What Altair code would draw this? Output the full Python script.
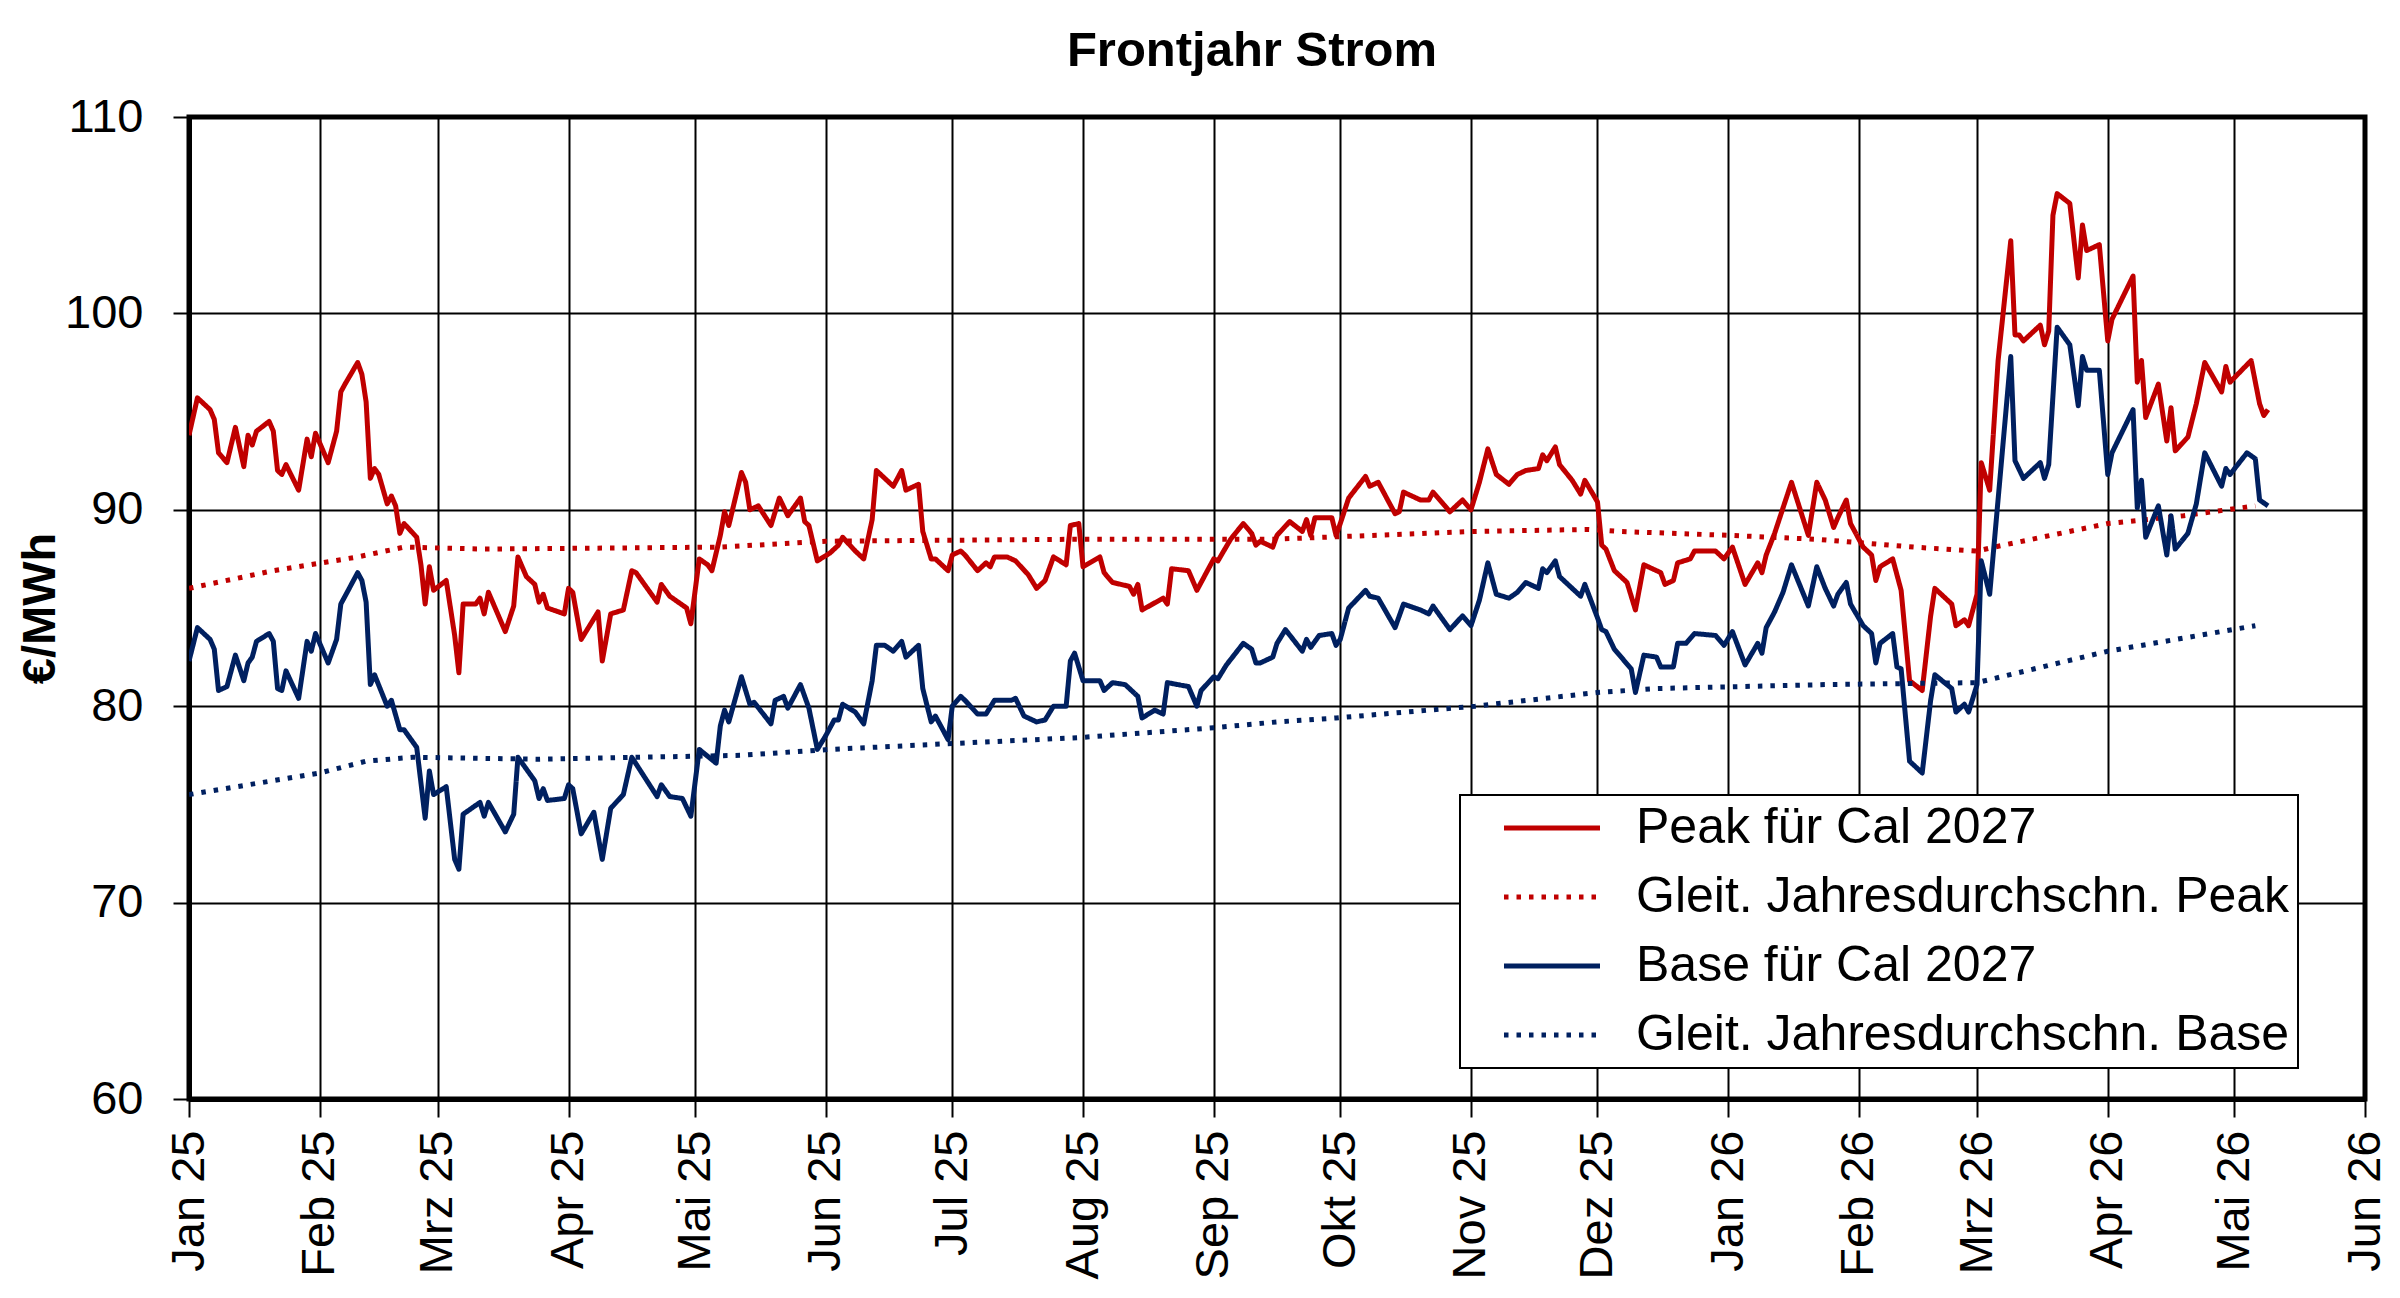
import altair as alt
import pandas as pd

# ---------------- data ----------------
peak_dates = [
    "2025-01-01", "2025-01-03", "2025-01-06", "2025-01-07", "2025-01-08", "2025-01-10", "2025-01-12",
    "2025-01-14", "2025-01-15", "2025-01-16", "2025-01-17", "2025-01-20", "2025-01-21", "2025-01-22",
    "2025-01-23", "2025-01-24", "2025-01-27", "2025-01-29", "2025-01-30", "2025-01-31", "2025-02-02",
    "2025-02-03", "2025-02-05", "2025-02-06", "2025-02-07", "2025-02-10", "2025-02-11", "2025-02-12",
    "2025-02-13", "2025-02-14", "2025-02-15", "2025-02-17", "2025-02-18", "2025-02-19", "2025-02-20",
    "2025-02-21", "2025-02-24", "2025-02-25", "2025-02-26", "2025-02-27", "2025-02-28", "2025-03-03",
    "2025-03-05", "2025-03-06", "2025-03-07", "2025-03-10", "2025-03-11", "2025-03-12", "2025-03-13",
    "2025-03-17", "2025-03-19", "2025-03-20", "2025-03-22", "2025-03-24", "2025-03-25", "2025-03-26",
    "2025-03-27", "2025-03-31", "2025-04-01", "2025-04-02", "2025-04-04", "2025-04-08", "2025-04-09",
    "2025-04-11", "2025-04-14", "2025-04-16", "2025-04-17", "2025-04-22", "2025-04-23", "2025-04-25",
    "2025-04-29", "2025-04-30", "2025-05-02", "2025-05-04", "2025-05-05", "2025-05-07", "2025-05-08",
    "2025-05-09", "2025-05-12", "2025-05-13", "2025-05-14", "2025-05-16", "2025-05-19", "2025-05-21",
    "2025-05-23", "2025-05-26", "2025-05-27", "2025-05-28", "2025-05-30", "2025-06-02", "2025-06-04",
    "2025-06-05", "2025-06-08", "2025-06-10", "2025-06-12", "2025-06-13", "2025-06-15", "2025-06-17",
    "2025-06-19", "2025-06-20", "2025-06-23", "2025-06-24", "2025-06-26", "2025-06-27", "2025-06-30",
    "2025-07-01", "2025-07-03", "2025-07-04", "2025-07-07", "2025-07-09", "2025-07-10", "2025-07-11",
    "2025-07-14", "2025-07-16", "2025-07-19", "2025-07-21", "2025-07-23", "2025-07-25", "2025-07-28",
    "2025-07-29", "2025-07-31", "2025-08-01", "2025-08-05", "2025-08-06", "2025-08-08", "2025-08-12",
    "2025-08-13", "2025-08-14", "2025-08-15", "2025-08-20", "2025-08-21", "2025-08-22", "2025-08-26",
    "2025-08-28", "2025-09-01", "2025-09-02", "2025-09-05", "2025-09-08", "2025-09-10", "2025-09-11",
    "2025-09-12", "2025-09-15", "2025-09-16", "2025-09-19", "2025-09-22", "2025-09-23", "2025-09-24",
    "2025-09-25", "2025-09-29", "2025-09-30", "2025-10-01", "2025-10-03", "2025-10-07", "2025-10-08",
    "2025-10-10", "2025-10-14", "2025-10-15", "2025-10-16", "2025-10-20", "2025-10-22", "2025-10-23",
    "2025-10-27", "2025-10-30", "2025-11-01", "2025-11-03", "2025-11-05", "2025-11-07", "2025-11-10",
    "2025-11-12", "2025-11-14", "2025-11-17", "2025-11-18", "2025-11-19", "2025-11-21", "2025-11-22",
    "2025-11-25", "2025-11-27", "2025-11-28", "2025-12-01", "2025-12-02", "2025-12-03", "2025-12-05",
    "2025-12-08", "2025-12-10", "2025-12-12", "2025-12-16", "2025-12-17", "2025-12-19", "2025-12-20",
    "2025-12-23", "2025-12-24", "2025-12-29", "2025-12-31", "2026-01-02", "2026-01-05", "2026-01-08",
    "2026-01-09", "2026-01-10", "2026-01-12", "2026-01-16", "2026-01-20", "2026-01-22", "2026-01-24",
    "2026-01-26", "2026-01-27", "2026-01-29", "2026-01-30", "2026-02-02", "2026-02-04", "2026-02-05",
    "2026-02-06", "2026-02-09", "2026-02-11", "2026-02-13", "2026-02-16", "2026-02-18", "2026-02-19",
    "2026-02-23", "2026-02-24", "2026-02-26", "2026-02-27", "2026-03-01", "2026-03-02", "2026-03-04",
    "2026-03-06", "2026-03-09", "2026-03-10", "2026-03-11", "2026-03-12", "2026-03-16", "2026-03-17",
    "2026-03-18", "2026-03-19", "2026-03-20", "2026-03-23", "2026-03-25", "2026-03-26", "2026-03-27",
    "2026-03-30", "2026-04-01", "2026-04-02", "2026-04-07", "2026-04-08", "2026-04-09", "2026-04-10",
    "2026-04-13", "2026-04-15", "2026-04-16", "2026-04-17", "2026-04-20", "2026-04-22", "2026-04-24",
    "2026-04-28", "2026-04-29", "2026-04-30", "2026-05-05", "2026-05-07", "2026-05-08", "2026-05-09",
]
peak_values = [
    93.8, 95.7, 95.1, 94.6, 92.9, 92.4, 94.2,
    92.2, 93.8, 93.3, 94.0, 94.5, 94.0, 92.0,
    91.8, 92.3, 91.0, 93.6, 92.7, 93.9, 92.9,
    92.4, 94.0, 96.0, 96.4, 97.5, 96.9, 95.5,
    91.6, 92.1, 91.8, 90.3, 90.7, 90.2, 88.8,
    89.3, 88.6, 87.2, 85.2, 87.1, 85.9, 86.4,
    83.6, 81.7, 85.2, 85.2, 85.5, 84.7, 85.8,
    83.8, 85.1, 87.6, 86.6, 86.2, 85.3, 85.7,
    85.0, 84.7, 86.0, 85.8, 83.4, 84.8, 82.3,
    84.7, 84.9, 86.9, 86.8, 85.3, 86.2, 85.6,
    85.0, 84.2, 87.5, 87.2, 86.9, 88.7, 89.9,
    89.2, 91.9, 91.4, 90.0, 90.2, 89.2, 90.6,
    89.7, 90.6, 89.4, 89.2, 87.4, 87.8, 88.2,
    88.6, 87.9, 87.5, 89.5, 92.0, 91.6, 91.2,
    92.0, 91.0, 91.3, 88.9, 87.5, 87.5, 86.9,
    87.7, 87.9, 87.7, 86.9, 87.3, 87.1, 87.6,
    87.6, 87.4, 86.7, 86.0, 86.4, 87.6, 87.2,
    89.2, 89.3, 87.1, 87.6, 86.8, 86.3, 86.1,
    85.7, 86.2, 84.9, 85.5, 85.2, 87.0, 86.9,
    85.9, 87.5, 87.4, 88.5, 89.3, 88.8, 88.2,
    88.4, 88.1, 88.7, 89.4, 88.9, 89.5, 88.7,
    89.6, 89.6, 88.7, 89.3, 90.6, 91.7, 91.2,
    91.4, 89.8, 89.9, 90.9, 90.5, 90.5, 90.9,
    89.9, 90.5, 90.0, 91.4, 93.1, 91.8, 91.3,
    91.8, 92.0, 92.1, 92.8, 92.5, 93.2, 92.3,
    91.5, 90.8, 91.5, 90.4, 88.2, 88.0, 86.9,
    86.3, 84.9, 87.2, 86.8, 86.2, 86.4, 87.3,
    87.5, 87.9, 87.9, 87.5, 88.1, 86.2, 87.3,
    86.8, 87.7, 88.8, 91.4, 88.7, 91.4, 90.5,
    89.1, 89.6, 90.5, 89.3, 88.1, 87.7, 86.4,
    87.1, 87.5, 85.9, 81.3, 80.8, 84.6, 86.0,
    85.2, 84.1, 84.4, 84.1, 85.7, 92.4, 91.0,
    97.6, 103.7, 98.9, 98.9, 98.6, 99.4, 98.4,
    99.1, 105.0, 106.1, 105.6, 101.8, 104.5, 103.2,
    103.5, 98.6, 99.7, 101.9, 96.5, 97.6, 94.7,
    96.4, 93.5, 95.2, 93.0, 93.7, 95.4, 97.5,
    96.0, 97.3, 96.5, 97.6, 95.4, 94.8, 95.1,
]

base_dates = [
    "2025-01-01", "2025-01-03", "2025-01-06", "2025-01-07", "2025-01-08", "2025-01-10", "2025-01-12",
    "2025-01-14", "2025-01-15", "2025-01-16", "2025-01-17", "2025-01-20", "2025-01-21", "2025-01-22",
    "2025-01-23", "2025-01-24", "2025-01-27", "2025-01-29", "2025-01-30", "2025-01-31", "2025-02-02",
    "2025-02-03", "2025-02-05", "2025-02-06", "2025-02-10", "2025-02-11", "2025-02-12", "2025-02-13",
    "2025-02-14", "2025-02-17", "2025-02-18", "2025-02-20", "2025-02-21", "2025-02-24", "2025-02-26",
    "2025-02-27", "2025-02-28", "2025-03-03", "2025-03-05", "2025-03-06", "2025-03-07", "2025-03-11",
    "2025-03-12", "2025-03-13", "2025-03-17", "2025-03-19", "2025-03-20", "2025-03-24", "2025-03-25",
    "2025-03-26", "2025-03-27", "2025-03-31", "2025-04-01", "2025-04-02", "2025-04-04", "2025-04-07",
    "2025-04-09", "2025-04-11", "2025-04-14", "2025-04-16", "2025-04-22", "2025-04-23", "2025-04-25",
    "2025-04-28", "2025-04-30", "2025-05-02", "2025-05-06", "2025-05-07", "2025-05-08", "2025-05-09",
    "2025-05-12", "2025-05-14", "2025-05-15", "2025-05-19", "2025-05-20", "2025-05-22", "2025-05-23",
    "2025-05-26", "2025-05-28", "2025-05-30", "2025-06-01", "2025-06-03", "2025-06-04", "2025-06-05",
    "2025-06-08", "2025-06-10", "2025-06-12", "2025-06-13", "2025-06-15", "2025-06-17", "2025-06-19",
    "2025-06-20", "2025-06-23", "2025-06-24", "2025-06-26", "2025-06-27", "2025-06-30", "2025-07-01",
    "2025-07-03", "2025-07-04", "2025-07-07", "2025-07-09", "2025-07-11", "2025-07-15", "2025-07-16",
    "2025-07-18", "2025-07-21", "2025-07-23", "2025-07-25", "2025-07-28", "2025-07-29", "2025-07-30",
    "2025-08-01", "2025-08-05", "2025-08-06", "2025-08-08", "2025-08-11", "2025-08-14", "2025-08-15",
    "2025-08-18", "2025-08-20", "2025-08-21", "2025-08-26", "2025-08-28", "2025-08-29", "2025-09-01",
    "2025-09-02", "2025-09-04", "2025-09-08", "2025-09-10", "2025-09-11", "2025-09-12", "2025-09-15",
    "2025-09-16", "2025-09-18", "2025-09-22", "2025-09-23", "2025-09-24", "2025-09-26", "2025-09-29",
    "2025-09-30", "2025-10-01", "2025-10-03", "2025-10-07", "2025-10-08", "2025-10-10", "2025-10-14",
    "2025-10-16", "2025-10-20", "2025-10-22", "2025-10-23", "2025-10-27", "2025-10-30", "2025-11-01",
    "2025-11-03", "2025-11-05", "2025-11-07", "2025-11-10", "2025-11-12", "2025-11-14", "2025-11-17",
    "2025-11-18", "2025-11-19", "2025-11-21", "2025-11-22", "2025-11-25", "2025-11-27", "2025-11-28",
    "2025-12-01", "2025-12-02", "2025-12-03", "2025-12-05", "2025-12-09", "2025-12-10", "2025-12-12",
    "2025-12-15", "2025-12-16", "2025-12-19", "2025-12-20", "2025-12-22", "2025-12-24", "2025-12-29",
    "2025-12-31", "2026-01-02", "2026-01-05", "2026-01-08", "2026-01-09", "2026-01-10", "2026-01-12",
    "2026-01-14", "2026-01-16", "2026-01-20", "2026-01-22", "2026-01-24", "2026-01-26", "2026-01-27",
    "2026-01-29", "2026-01-30", "2026-02-02", "2026-02-04", "2026-02-05", "2026-02-06", "2026-02-09",
    "2026-02-10", "2026-02-11", "2026-02-13", "2026-02-16", "2026-02-18", "2026-02-19", "2026-02-23",
    "2026-02-24", "2026-02-26", "2026-02-27", "2026-03-01", "2026-03-02", "2026-03-04", "2026-03-09",
    "2026-03-10", "2026-03-12", "2026-03-16", "2026-03-17", "2026-03-18", "2026-03-20", "2026-03-23",
    "2026-03-25", "2026-03-26", "2026-03-27", "2026-03-30", "2026-04-01", "2026-04-02", "2026-04-07",
    "2026-04-08", "2026-04-09", "2026-04-10", "2026-04-13", "2026-04-15", "2026-04-16", "2026-04-17",
    "2026-04-20", "2026-04-22", "2026-04-24", "2026-04-28", "2026-04-29", "2026-04-30", "2026-05-04",
    "2026-05-06", "2026-05-07", "2026-05-09",
]
base_values = [
    82.3, 84.0, 83.4, 82.9, 80.8, 81.0, 82.6,
    81.3, 82.2, 82.5, 83.3, 83.7, 83.3, 80.9,
    80.8, 81.8, 80.4, 83.3, 82.8, 83.7, 82.7,
    82.2, 83.4, 85.2, 86.8, 86.4, 85.3, 81.1,
    81.6, 80.0, 80.3, 78.8, 78.8, 77.9, 74.3,
    76.7, 75.5, 75.9, 72.2, 71.7, 74.5, 75.1,
    74.4, 75.1, 73.6, 74.5, 77.4, 76.2, 75.3,
    75.8, 75.2, 75.3, 76.0, 75.8, 73.5, 74.6,
    72.2, 74.8, 75.5, 77.4, 75.4, 76.0, 75.4,
    75.3, 74.4, 77.8, 77.1, 79.0, 79.8, 79.2,
    81.5, 80.1, 80.2, 79.1, 80.3, 80.5, 79.9,
    81.1, 79.9, 77.8, 78.5, 79.3, 79.3, 80.1,
    79.7, 79.1, 81.3, 83.1, 83.1, 82.8, 83.3,
    82.5, 83.1, 80.9, 79.2, 79.5, 78.3, 80.0,
    80.5, 80.3, 79.6, 79.6, 80.3, 80.3, 80.4,
    79.5, 79.2, 79.3, 80.0, 80.0, 82.3, 82.7,
    81.3, 81.3, 80.8, 81.2, 81.1, 80.5, 79.4,
    79.8, 79.6, 81.2, 81.0, 80.0, 80.8, 81.5,
    81.4, 82.1, 83.2, 82.9, 82.2, 82.2, 82.5,
    83.2, 83.9, 82.8, 83.4, 83.0, 83.6, 83.7,
    83.1, 83.4, 85.0, 85.9, 85.6, 85.5, 84.0,
    85.2, 84.9, 84.7, 85.1, 83.9, 84.6, 84.1,
    85.4, 87.3, 85.7, 85.5, 85.8, 86.3, 86.0,
    87.0, 86.8, 87.4, 86.6, 86.0, 85.6, 86.2,
    84.5, 83.9, 83.8, 82.9, 81.9, 80.7, 82.6,
    82.5, 82.0, 82.0, 83.2, 83.2, 83.7, 83.6,
    83.1, 83.8, 82.1, 83.2, 82.7, 84.0, 84.8,
    85.8, 87.2, 85.1, 87.1, 86.0, 85.1, 85.7,
    86.3, 85.2, 84.1, 83.7, 82.2, 83.2, 83.7,
    82.0, 81.9, 77.2, 76.6, 80.3, 81.6, 80.9,
    79.7, 80.1, 79.7, 81.1, 87.4, 85.7, 97.8,
    92.5, 91.6, 92.4, 91.6, 92.3, 99.3, 98.4,
    95.3, 97.8, 97.1, 97.1, 91.8, 92.9, 95.1,
    90.1, 91.5, 88.6, 90.2, 87.7, 89.7, 88.0,
    88.8, 90.3, 92.9, 91.2, 92.1, 91.8, 92.9,
    92.6, 90.5, 90.2,
]

peak_avg_dates = [
    "2025-01-01", "2025-01-21", "2025-02-10", "2025-02-21", "2025-03-12", "2025-05-07", "2025-06-01",
    "2025-07-30", "2025-09-15", "2025-11-02", "2025-11-29", "2025-12-06", "2026-01-01", "2026-01-22",
    "2026-02-14", "2026-03-01", "2026-03-05", "2026-04-01", "2026-04-19", "2026-05-06",
]
peak_avg_values = [
    86.0, 86.9, 87.6, 88.1, 88.0, 88.1, 88.4,
    88.5, 88.5, 88.9, 89.0, 88.9, 88.7, 88.5,
    88.1, 87.9, 88.1, 89.3, 89.7, 90.2,
]

base_avg_dates = [
    "2025-01-01", "2025-02-01", "2025-02-12", "2025-02-23", "2025-03-25", "2025-05-12", "2025-06-02",
    "2025-07-01", "2025-07-31", "2025-09-01", "2025-09-16", "2025-09-30", "2025-11-02", "2025-12-01",
    "2025-12-15", "2026-01-24", "2026-03-01", "2026-04-01", "2026-05-06",
]
base_avg_values = [
    75.5, 76.6, 77.2, 77.4, 77.3, 77.5, 77.8,
    78.1, 78.4, 78.9, 79.2, 79.4, 80.0, 80.7,
    80.9, 81.1, 81.2, 82.8, 84.1,
]

series_names = [
    "Peak für Cal 2027",
    "Gleit. Jahresdurchschn. Peak",
    "Base für Cal 2027",
    "Gleit. Jahresdurchschn. Base",
]
series_colors = ["#C00000", "#C00000", "#002060", "#002060"]
series_dashes = [[1, 0], [4.5, 8], [1, 0], [4.5, 8]]

month_labels = ["Jan", "Feb", "Mrz", "Apr", "Mai", "Jun", "Jul", "Aug", "Sep", "Okt", "Nov", "Dez"]
x_tick_months = [(2025, m) for m in range(1, 13)] + [(2026, m) for m in range(1, 7)]
y_ticks = [60, 70, 80, 90, 100, 110]

# ---------------- build table ----------------
frames = []
for name, d, v in zip(
    series_names,
    [peak_dates, peak_avg_dates, base_dates, base_avg_dates],
    [peak_values, peak_avg_values, base_values, base_avg_values],
):
    frames.append(pd.DataFrame({"Datum": d, "Wert": v, "Reihe": name}))
df = pd.concat(frames, ignore_index=True)

FONT = "Liberation Sans"
label_expr = (
    "[" + ",".join("'" + m + "'" for m in month_labels) + "][utcmonth(datum.value)]"
    " + ' ' + utcFormat(datum.value, '%y')"
)

x_values = [alt.DateTime(year=y, month=m, date=1, utc=True) for (y, m) in x_tick_months]

legend = alt.Legend(
    title=None,
    orient="none",
    legendX=1271,
    legendY=678,
    fillColor="white",
    strokeColor="black",
    padding=8,
    symbolType="M-2.4,0H2.4",
    symbolSize=1600,
    symbolStrokeWidth=5,
    symbolOffset=59,
    labelOffset=59,
    labelLimit=1500,
    rowPadding=19,
    labelFont=FONT,
    labelFontSize=50,
    labelColor="black",
)

chart = (
    alt.Chart(df)
    .mark_line(strokeWidth=5, strokeJoin="round", clip=True)
    .encode(
        x=alt.X(
            "Datum:T",
            scale=alt.Scale(
                type="utc",
                domain=[
                    alt.DateTime(year=2025, month=1, date=1, utc=True),
                    alt.DateTime(year=2026, month=6, date=1, utc=True),
                ],
            ),
            axis=alt.Axis(
                title=None,
                values=x_values,
                labelExpr=label_expr,
                labelAngle=270,
                labelFontSize=47,
                labelPadding=13,
                tickSize=18,
                grid=True,
            ),
        ),
        y=alt.Y(
            "Wert:Q",
            scale=alt.Scale(domain=[60, 110], nice=False, zero=False),
            axis=alt.Axis(
                title="€/MWh",
                values=y_ticks,
                labelFontSize=47,
                labelPadding=30,
                tickSize=16,
                titleFontSize=47,
                titleFontWeight="bold",
                titlePadding=0,
                grid=True,
            ),
        ),
        color=alt.Color(
            "Reihe:N",
            scale=alt.Scale(domain=series_names, range=series_colors),
            legend=legend,
        ),
        strokeDash=alt.StrokeDash(
            "Reihe:N",
            scale=alt.Scale(domain=series_names, range=series_dashes),
            legend=legend,
        ),
        detail="Reihe:N",
    )
    .properties(
        width=2176,
        height=982,
        autosize=alt.AutoSizeParams(type="none"),
        padding={"left": 181, "top": 109, "right": 27, "bottom": 181},
        title=alt.TitleParams(
            "Frontjahr Strom",
            font=FONT,
            fontSize=49,
            fontWeight="bold",
            color="black",
            anchor="middle",
            offset=17,
            dx=-25,
        ),
    )
    .configure_view(stroke="black", strokeWidth=5)
    .configure_legend(strokeWidth=2)
    .configure_axis(
        labelFont=FONT,
        titleFont=FONT,
        labelColor="black",
        titleColor="black",
        gridColor="black",
        gridWidth=2,
        gridOpacity=1,
        domainColor="black",
        domainWidth=5,
        tickColor="black",
        tickWidth=2,
    )
)

chart.save("out.html", embed_options={"renderer": "svg", "actions": False})
